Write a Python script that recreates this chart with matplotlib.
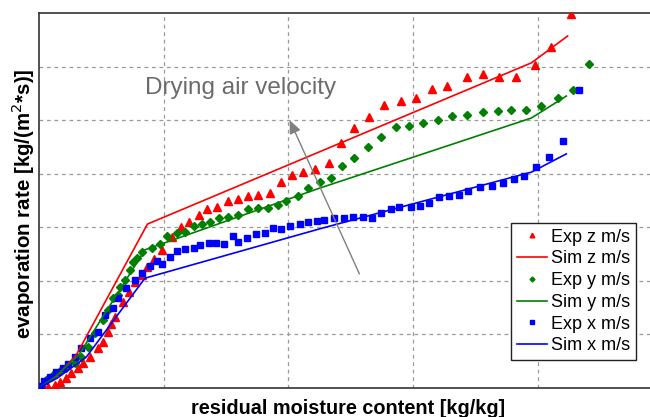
import matplotlib
matplotlib.use("Agg")
import matplotlib.pyplot as plt

plt.rcParams['font.family'] = ['Liberation Sans', 'DejaVu Sans']

# Experimental data (arbitrary grid units, no tick labels in original)
exp_z_x = [0.04,0.07,0.13,0.17,0.22,0.26,0.31,0.35,0.41,0.47,0.51,0.55,0.58,0.61,0.67,0.72,0.77,0.83,0.87,0.92,0.99,1.07,1.14,1.20,1.28,1.35,1.43,1.52,1.60,1.68,1.76,1.85,1.94,2.03,2.12,2.21,2.33,2.42,2.53,2.65,2.77,2.90,3.02,3.15,3.27,3.43,3.56,3.69,3.83,3.98,4.11,4.27]
exp_z_y = [0.00,0.02,0.06,0.11,0.19,0.28,0.37,0.47,0.58,0.75,0.86,1.05,1.19,1.33,1.61,1.79,1.98,2.11,2.26,2.41,2.58,2.82,3.01,3.10,3.23,3.34,3.38,3.49,3.53,3.58,3.60,3.64,3.85,3.98,4.03,4.09,4.20,4.57,4.85,5.06,5.28,5.36,5.41,5.58,5.64,5.81,5.86,5.81,5.81,6.03,6.37,6.98]

exp_y_x = [0.01,0.06,0.11,0.17,0.22,0.29,0.34,0.39,0.45,0.51,0.55,0.59,0.63,0.65,0.69,0.73,0.75,0.79,0.83,0.91,0.97,1.03,1.11,1.17,1.24,1.31,1.37,1.44,1.52,1.60,1.68,1.76,1.84,1.92,1.98,2.08,2.16,2.25,2.34,2.43,2.53,2.64,2.74,2.86,2.97,3.08,3.20,3.31,3.43,3.56,3.68,3.79,3.91,4.03,4.16,4.28,4.41]
exp_y_y = [0.02,0.15,0.24,0.32,0.37,0.47,0.58,0.77,1.03,1.27,1.46,1.68,1.74,1.89,2.02,2.20,2.35,2.43,2.54,2.61,2.69,2.84,2.89,2.91,3.02,3.06,3.10,3.17,3.19,3.23,3.34,3.36,3.36,3.42,3.49,3.58,3.73,3.85,3.92,4.14,4.29,4.50,4.69,4.87,4.89,4.95,5.00,5.08,5.10,5.15,5.17,5.19,5.19,5.26,5.41,5.56,6.05]

exp_x_x = [0.02,0.04,0.09,0.14,0.19,0.23,0.29,0.34,0.41,0.47,0.53,0.59,0.63,0.70,0.77,0.83,0.89,0.95,0.99,1.05,1.11,1.17,1.24,1.29,1.36,1.42,1.48,1.56,1.60,1.67,1.74,1.81,1.88,1.94,2.01,2.09,2.16,2.23,2.29,2.37,2.45,2.52,2.60,2.67,2.74,2.82,2.89,2.98,3.06,3.13,3.21,3.29,3.37,3.44,3.54,3.63,3.72,3.81,3.89,3.99,4.09,4.20,4.33]
exp_x_y = [0.04,0.13,0.21,0.30,0.37,0.45,0.58,0.75,0.93,1.05,1.36,1.49,1.68,1.87,2.02,2.15,2.28,2.37,2.31,2.45,2.56,2.59,2.61,2.67,2.71,2.71,2.69,2.84,2.73,2.80,2.87,2.89,2.99,2.97,3.02,3.06,3.10,3.12,3.14,3.17,3.17,3.19,3.19,3.17,3.27,3.34,3.38,3.38,3.40,3.45,3.57,3.58,3.60,3.68,3.75,3.77,3.83,3.90,3.96,4.13,4.31,4.61,5.56]

# Simulation lines
sim_z_x = [0.00,0.13,0.30,0.87,3.95,4.24]
sim_z_y = [0.00,0.19,0.62,3.06,6.07,6.57]
sim_y_x = [0.00,0.13,0.32,0.85,2.25,3.95,4.23]
sim_y_y = [0.00,0.21,0.62,2.58,3.73,5.04,5.45]
sim_x_x = [0.00,0.15,0.38,0.85,2.25,3.95,4.23]
sim_x_y = [0.00,0.19,0.58,2.05,2.97,4.03,4.37]

fig = plt.figure(figsize=(6.5, 4.17), dpi=100)
ax = fig.add_axes([39/650, 29/417, 5*124.67/650, 375/417])
ax.set_xlim(0, 5)
ax.set_ylim(0, 7)
ax.set_xticks([1, 2, 3, 4])
ax.set_yticks([1, 2, 3, 4, 5, 6])
ax.tick_params(length=0, labelbottom=False, labelleft=False)
ax.grid(True, color='#9a9a9a', linestyle=(0, (3, 3)), linewidth=0.9)
for s in ['left', 'bottom', 'top']:
    ax.spines[s].set_color('#333333')
    ax.spines[s].set_linewidth(1.2)
ax.spines['right'].set_visible(False)

red, green, blue = '#ff0000', '#008000', '#0000ff'
ax.plot(exp_z_x, exp_z_y, linestyle='none', marker='^', color=red, markersize=5.6, label='Exp z m/s', zorder=3)
ax.plot(sim_z_x, sim_z_y, color=red, linewidth=1.2, label='Sim z m/s', zorder=4)
ax.plot(exp_y_x, exp_y_y, linestyle='none', marker='D', color=green, markersize=4.2, label='Exp y m/s', zorder=3)
ax.plot(sim_y_x, sim_y_y, color=green, linewidth=1.2, label='Sim y m/s', zorder=4)
ax.plot(exp_x_x, exp_x_y, linestyle='none', marker='s', color=blue, markersize=5.0, label='Exp x m/s', zorder=3)
ax.plot(sim_x_x, sim_x_y, color=blue, linewidth=1.2, label='Sim x m/s', zorder=4)

ax.annotate('', xy=(2.01, 5.00), xytext=(2.57, 2.13),
            arrowprops=dict(arrowstyle='-|>,head_length=0.8,head_width=0.35', color='#808080', lw=1.0,
                            shrinkA=0, shrinkB=0), zorder=5)
ax.text(0.85, 5.60, 'Drying air velocity', fontsize=17.5, color='#6b6b6b', va='center', ha='left')

fig.text(348/650, 9/417, 'residual moisture content [kg/kg]', fontsize=14.3, fontweight='bold', ha='center', va='center')
fig.text(23/650, (417-204)/417, 'evaporation rate [kg/(m$^{2}$*s)]', fontsize=14.8, fontweight='bold', ha='center', va='center', rotation=90)

leg = fig.legend(loc='upper left', bbox_to_anchor=(511/650, (417-223)/417), borderaxespad=0,
                 fontsize=13, frameon=True, fancybox=False, framealpha=1, edgecolor='#222222',
                 labelspacing=0.26, handlelength=1.7, handletextpad=0.2, borderpad=0.32, markerscale=0.6)
leg.get_frame().set_linewidth(1.0)

fig.savefig('out.png', dpi=100)
